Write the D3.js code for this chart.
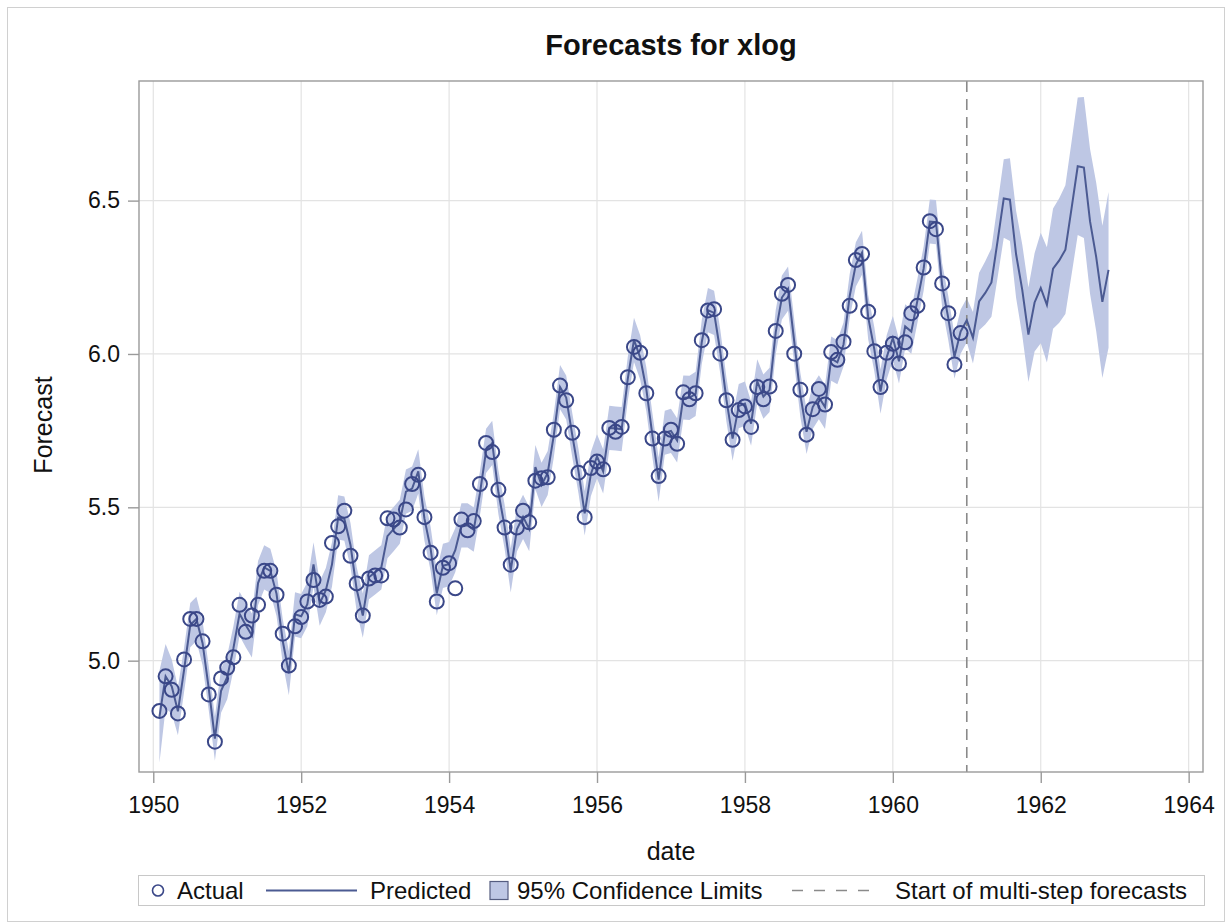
<!DOCTYPE html>
<html>
<head>
<meta charset="utf-8">
<script src="https://cdn.jsdelivr.net/npm/d3@7"></script>
<style>
  body { margin: 0; background: #fff; }
  text { font-family: "Liberation Sans", Arial, sans-serif; fill: #111; }
</style>
</head>
<body>
<svg id="chart" width="1225" height="924"></svg>
<script>
// observed log series, Feb 1950 .. Dec 1960
const actual = [
  4.836, 4.949, 4.905, 4.828, 5.004, 5.136, 5.136, 5.063, 4.890, 4.736, 4.942,
  4.977, 5.011, 5.182, 5.094, 5.147, 5.182, 5.293, 5.293, 5.215, 5.088, 4.984, 5.112,
  5.142, 5.193, 5.263, 5.198, 5.209, 5.384, 5.438, 5.489, 5.342, 5.252, 5.147, 5.268,
  5.278, 5.278, 5.464, 5.460, 5.434, 5.493, 5.576, 5.606, 5.468, 5.352, 5.193, 5.303,
  5.318, 5.236, 5.460, 5.425, 5.455, 5.576, 5.710, 5.680, 5.557, 5.434, 5.313, 5.434,
  5.489, 5.451, 5.587, 5.595, 5.598, 5.753, 5.897, 5.849, 5.743, 5.613, 5.468, 5.628,
  5.649, 5.624, 5.759, 5.746, 5.762, 5.924, 6.023, 6.004, 5.872, 5.724, 5.602, 5.724,
  5.753, 5.707, 5.875, 5.852, 5.872, 6.045, 6.142, 6.146, 6.001, 5.849, 5.720, 5.817,
  5.829, 5.762, 5.892, 5.852, 5.894, 6.075, 6.196, 6.225, 6.001, 5.883, 5.737, 5.820,
  5.886, 5.835, 6.006, 5.981, 6.040, 6.157, 6.306, 6.326, 6.138, 6.009, 5.892, 6.004,
  6.033, 5.969, 6.038, 6.133, 6.157, 6.282, 6.433, 6.407, 6.230, 6.133, 5.966, 6.068
];

// one-step-ahead predictions over the same months
const predicted = [
  4.817, 4.949, 4.916, 4.835, 4.970, 5.116, 5.136, 5.057, 4.910, 4.746, 4.902,
  4.946, 5.040, 5.153, 5.116, 5.082, 5.253, 5.304, 5.293, 5.218, 5.065, 4.959, 5.151,
  5.145, 5.184, 5.314, 5.186, 5.230, 5.314, 5.467, 5.463, 5.377, 5.233, 5.147, 5.272,
  5.288, 5.304, 5.406, 5.429, 5.453, 5.551, 5.561, 5.617, 5.463, 5.365, 5.220, 5.309,
  5.315, 5.360, 5.441, 5.441, 5.427, 5.545, 5.684, 5.710, 5.549, 5.438, 5.294, 5.428,
  5.469, 5.429, 5.631, 5.573, 5.612, 5.736, 5.892, 5.858, 5.734, 5.617, 5.480, 5.608,
  5.666, 5.617, 5.759, 5.757, 5.755, 5.920, 6.046, 5.989, 5.885, 5.733, 5.590, 5.743,
  5.749, 5.718, 5.858, 5.857, 5.870, 6.039, 6.143, 6.134, 6.008, 5.851, 5.724, 5.830,
  5.838, 5.773, 5.911, 5.861, 5.883, 6.071, 6.184, 6.213, 6.041, 5.866, 5.746, 5.827,
  5.859, 5.827, 5.985, 5.973, 6.031, 6.189, 6.292, 6.330, 6.120, 6.015, 5.877, 5.989,
  6.052, 5.976, 6.090, 6.073, 6.175, 6.278, 6.432, 6.430, 6.224, 6.117, 5.991, 6.073
];

// 95% limits half-width: first months wider, then steady
const earlyHalfWidth = [0.150, 0.105, 0.088, 0.078];
const inSampleHalfWidth = 0.072;

// multi-step forecasts Jan 1961 .. Dec 1962
const forecast = [
  6.110, 6.053, 6.171, 6.199, 6.233, 6.369, 6.507, 6.503, 6.325, 6.209, 6.063, 6.168,
  6.215, 6.160, 6.278, 6.305, 6.340, 6.475, 6.612, 6.608, 6.432, 6.316, 6.170, 6.274
];
const forecastHalfWidth = [
  0.072, 0.084, 0.094, 0.103, 0.112, 0.120, 0.128, 0.135, 0.142, 0.148, 0.154, 0.160,
  0.180, 0.188, 0.196, 0.203, 0.210, 0.217, 0.224, 0.230, 0.236, 0.242, 0.248, 0.254
];

const firstDate = 1950 + 1 / 12;
const forecastStart = 1961;
const xTicks = [1950, 1952, 1954, 1956, 1958, 1960, 1962, 1964];
const yTicks = [5.0, 5.5, 6.0, 6.5];

const svg = d3.select("#chart");
const W = +svg.attr("width"), H = +svg.attr("height");
const plot = { left: 139, right: 1203, top: 81, bottom: 772 };

const x = d3.scaleLinear().domain([1949.807, 1964.194]).range([plot.left, plot.right]);
const y = d3.scaleLinear().domain([4.637, 6.890]).range([plot.bottom, plot.top]);

// build rows
const rows = [];
actual.forEach((v, i) => {
  const hw = i < earlyHalfWidth.length ? earlyHalfWidth[i] : inSampleHalfWidth;
  rows.push({ date: firstDate + i / 12, actual: v, pred: predicted[i], lo: predicted[i] - hw, hi: predicted[i] + hw });
});
forecast.forEach((v, i) => {
  rows.push({ date: forecastStart + i / 12, actual: null, pred: v, lo: v - forecastHalfWidth[i], hi: v + forecastHalfWidth[i] });
});

// outer border
svg.append("rect").attr("x", 7.5).attr("y", 7.5).attr("width", W - 8).attr("height", H - 10)
  .attr("fill", "none").attr("stroke", "#d0d0d0");

// gridlines
const grid = svg.append("g").attr("stroke", "#e3e3e3").attr("stroke-width", 1.2);
xTicks.forEach(t => grid.append("line").attr("x1", x(t)).attr("x2", x(t)).attr("y1", plot.top).attr("y2", plot.bottom));
yTicks.forEach(t => grid.append("line").attr("y1", y(t)).attr("y2", y(t)).attr("x1", plot.left).attr("x2", plot.right));

// confidence band
svg.append("path").datum(rows)
  .attr("fill", "#bec7e4")
  .attr("d", d3.area().x(d => x(d.date)).y0(d => y(d.lo)).y1(d => y(d.hi)));

// start of multi-step forecasts
svg.append("line")
  .attr("x1", x(forecastStart)).attr("x2", x(forecastStart))
  .attr("y1", plot.top).attr("y2", plot.bottom)
  .attr("stroke", "#8a8a8a").attr("stroke-width", 1.6).attr("stroke-dasharray", "11,7");

// predicted line
svg.append("path").datum(rows)
  .attr("fill", "none").attr("stroke", "#4b5a92").attr("stroke-width", 2)
  .attr("d", d3.line().x(d => x(d.date)).y(d => y(d.pred)));

// actual circles
svg.append("g").selectAll("circle")
  .data(rows.filter(d => d.actual !== null))
  .enter().append("circle")
    .attr("cx", d => x(d.date)).attr("cy", d => y(d.actual)).attr("r", 7)
    .attr("fill", "none").attr("stroke", "#3a4788").attr("stroke-width", 2);

// frame
svg.append("rect").attr("x", plot.left).attr("y", plot.top)
  .attr("width", plot.right - plot.left).attr("height", plot.bottom - plot.top)
  .attr("fill", "none").attr("stroke", "#9a9a9a").attr("stroke-width", 1.4);

// axes
const xAxis = svg.append("g").attr("transform", `translate(0,${plot.bottom})`)
  .call(d3.axisBottom(x).tickValues(xTicks).tickFormat(d3.format("d")).tickSize(11).tickPadding(14));
const yAxis = svg.append("g").attr("transform", `translate(${plot.left},0)`)
  .call(d3.axisLeft(y).tickValues(yTicks).tickFormat(d3.format(".1f")).tickSize(11).tickPadding(8));
[xAxis, yAxis].forEach(a => {
  a.select(".domain").remove();
  a.selectAll(".tick line").attr("stroke", "#9a9a9a").attr("stroke-width", 1.4);
  a.selectAll(".tick text").style("font-family", '"Liberation Sans", Arial, sans-serif')
    .style("font-size", "23px").attr("fill", "#111");
});

// titles
svg.append("text").attr("x", (plot.left + plot.right) / 2).attr("y", 55)
  .attr("text-anchor", "middle").style("font-size", "29px").style("font-weight", "bold")
  .text("Forecasts for xlog");
svg.append("text").attr("x", (plot.left + plot.right) / 2).attr("y", 860)
  .attr("text-anchor", "middle").style("font-size", "25px").text("date");
svg.append("text").attr("transform", "translate(52,425) rotate(-90)")
  .attr("text-anchor", "middle").style("font-size", "25px").text("Forecast");

// legend
const lg = svg.append("g");
lg.append("rect").attr("x", 138.5).attr("y", 875.5).attr("width", 1066).attr("height", 30)
  .attr("fill", "#fff").attr("stroke", "#c8c8c8");
const ly = 890.5, lt = 899;
lg.append("circle").attr("cx", 158).attr("cy", ly).attr("r", 5.5)
  .attr("fill", "none").attr("stroke", "#3a4788").attr("stroke-width", 1.6);
lg.append("text").attr("x", 177).attr("y", lt).style("font-size", "24px").text("Actual");
lg.append("line").attr("x1", 266).attr("x2", 357).attr("y1", ly).attr("y2", ly)
  .attr("stroke", "#4b5a92").attr("stroke-width", 2);
lg.append("text").attr("x", 370).attr("y", lt).style("font-size", "24px").text("Predicted");
lg.append("rect").attr("x", 490).attr("y", ly - 9).attr("width", 18).attr("height", 18)
  .attr("fill", "#bec7e4").attr("stroke", "#555d80").attr("stroke-width", 1.2);
lg.append("text").attr("x", 517).attr("y", lt).style("font-size", "24px").text("95% Confidence Limits");
lg.append("line").attr("x1", 792).attr("x2", 872).attr("y1", ly).attr("y2", ly)
  .attr("stroke", "#8a8a8a").attr("stroke-width", 1.6).attr("stroke-dasharray", "11,11");
lg.append("text").attr("x", 895).attr("y", lt).style("font-size", "24px").text("Start of multi-step forecasts");
</script>
</body>
</html>
